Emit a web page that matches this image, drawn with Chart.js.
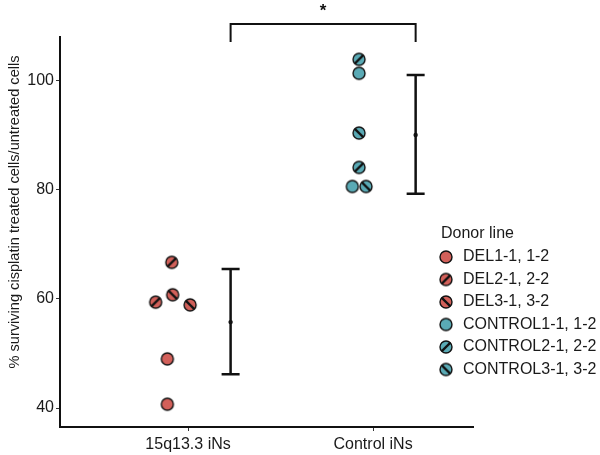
<!DOCTYPE html>
<html>
<head>
<meta charset="utf-8">
<script src="https://cdn.jsdelivr.net/npm/chart.js@4.4.1/dist/chart.umd.min.js"></script>
<style>
    html, body { margin: 0; padding: 0; background: #fff; }
</style>
</head>
<body>
<canvas id="chart" width="600" height="455"></canvas>
<script>
// Data
const groups = ['15q13.3 iNs', 'Control iNs'];
const donorLines = ['DEL1-1, 1-2', 'DEL2-1, 2-2', 'DEL3-1, 3-2', 'CONTROL1-1, 1-2', 'CONTROL2-1, 2-2', 'CONTROL3-1, 3-2'];
const donorGroup = [0, 0, 0, 1, 1, 1];
const donorHatch = ['none', '/', '\\', 'none', '/', '\\'];
const survival = [[49.0, 40.7], [66.7, 59.4], [60.75, 58.9], [101.35, 80.6], [103.9, 84.1], [90.4, 80.6]];
const jitter = [[-0.112, -0.112], [-0.088, -0.175], [-0.083, 0.011], [-0.076, -0.112], [-0.076, -0.076], [-0.076, -0.038]];
const groupMean = [55.75, 90.05];
const groupLower = [46.2, 79.25];
const groupUpper = [65.5, 101.05];
const yTicks = [40, 60, 80, 100];
const bracketLow = 107.1;
const bracketHigh = 110.4;
const signifLabel = '*';
const yTitle = '% surviving cisplatin treated cells/untreated cells';

const FONT = "'Liberation Sans', Arial, sans-serif";
const groupColors = ['#D2605A', '#5AAAB5'];
const dodge = 0.23;

function makeMarker(color, hatch) {
    const c = document.createElement('canvas');
    c.width = 16;
    c.height = 16;
    const g = c.getContext('2d');
    g.beginPath();
    g.arc(8, 8, 6, 0, Math.PI * 2);
    g.fillStyle = color;
    g.fill();
    g.lineWidth = 1.4;
    g.strokeStyle = '#111';
    g.stroke();
    if (hatch !== 'none') {
        const d = 4.4;
        g.beginPath();
        if (hatch === '/') { g.moveTo(8 - d, 8 + d); g.lineTo(8 + d, 8 - d); }
        else { g.moveTo(8 - d, 8 - d); g.lineTo(8 + d, 8 + d); }
        g.lineWidth = 2.2;
        g.stroke();
    }
    return c;
}

const markers = donorLines.map((_, i) => makeMarker(groupColors[donorGroup[i]], donorHatch[i]));

const pointSets = donorLines.map((name, i) => ({
    type: 'scatter',
    label: name,
    data: survival[i].map((v, k) => ({ x: donorGroup[i] + 1 + jitter[i][k], y: v })),
    pointStyle: markers[i],
    pointRadius: 7,
    backgroundColor: groupColors[donorGroup[i]]
}));

// significance bracket between the two summary bars
const bracketSet = {
    type: 'line',
    label: 'bracket',
    data: [
        { x: 1 + dodge, y: bracketLow },
        { x: 1 + dodge, y: bracketHigh },
        { x: 2 + dodge, y: bracketHigh },
        { x: 2 + dodge, y: bracketLow }
    ],
    borderColor: '#111',
    borderWidth: 2,
    pointRadius: 0,
    fill: false,
    clip: false
};

const summaryPlugin = {
    id: 'summary',
    afterDatasetsDraw(chart) {
        const { ctx, scales: { x, y } } = chart;
        ctx.save();
        ctx.strokeStyle = '#111';
        ctx.fillStyle = '#111';
        ctx.lineWidth = 2.5;
        groups.forEach((g, i) => {
            const px = x.getPixelForValue(i + 1 + dodge);
            const top = y.getPixelForValue(groupUpper[i]);
            const bot = y.getPixelForValue(groupLower[i]);
            const mid = y.getPixelForValue(groupMean[i]);
            ctx.beginPath();
            ctx.moveTo(px, top); ctx.lineTo(px, bot);
            ctx.moveTo(px - 9, top); ctx.lineTo(px + 9, top);
            ctx.moveTo(px - 9, bot); ctx.lineTo(px + 9, bot);
            ctx.stroke();
            ctx.beginPath();
            ctx.arc(px, mid, 2.2, 0, Math.PI * 2);
            ctx.fill();
        });
        // star above bracket
        const sx = (x.getPixelForValue(1 + dodge) + x.getPixelForValue(2 + dodge)) / 2;
        ctx.font = 'bold 17px ' + FONT;
        ctx.textAlign = 'center';
        ctx.textBaseline = 'alphabetic';
        ctx.fillText(signifLabel, sx, y.getPixelForValue(bracketHigh) - 8);
        ctx.restore();
    }
};

const legendPlugin = {
    id: 'donorLegend',
    afterDraw(chart) {
        const ctx = chart.ctx;
        ctx.save();
        ctx.fillStyle = '#1a1a1a';
        ctx.textBaseline = 'middle';
        ctx.textAlign = 'left';
        ctx.font = '16px ' + FONT;
        ctx.fillText('Donor line', 441, 234);
        donorLines.forEach((name, i) => {
            const cy = 257 + i * 22.5;
            ctx.drawImage(markers[i], 446 - 8, cy - 8);
            ctx.fillText(name, 463, cy);
        });
        // y axis title
        ctx.translate(15, 212);
        ctx.rotate(-Math.PI / 2);
        ctx.textAlign = 'center';
        ctx.font = '14.6px ' + FONT;
        ctx.fillText(yTitle, 0, 0);
        ctx.restore();
    }
};

new Chart(document.getElementById('chart'), {
    data: { datasets: [...pointSets, bracketSet] },
    options: {
        responsive: false,
        animation: false,
        layout: { padding: { top: 37, right: 127, left: 0, bottom: 0 } },
        plugins: {
            legend: { display: false },
            tooltip: { enabled: false }
        },
        scales: {
            x: {
                type: 'linear',
                min: 0.308,
                max: 2.54,
                afterBuildTicks: (scale) => { scale.ticks = groups.map((_, i) => ({ value: i + 1 })); },
                afterFit: (scale) => { scale.height = 28; },
                ticks: {
                    callback: (v) => groups[v - 1],
                    color: '#1a1a1a',
                    font: { family: FONT, size: 16 },
                    padding: 4,
                    maxRotation: 0
                },
                grid: { drawOnChartArea: false, color: '#333', tickLength: 4, tickWidth: 1 },
                border: { color: '#111', width: 2 }
            },
            y: {
                type: 'linear',
                min: 36.52,
                max: 108,
                afterBuildTicks: (scale) => { scale.ticks = yTicks.map(v => ({ value: v })); },
                afterFit: (scale) => { scale.width = 60; },
                ticks: {
                    color: '#1a1a1a',
                    font: { family: FONT, size: 16 },
                    padding: 2
                },
                grid: { drawOnChartArea: false, color: '#333', tickLength: 4, tickWidth: 1 },
                border: { color: '#111', width: 2 }
            }
        }
    },
    plugins: [summaryPlugin, legendPlugin]
});
</script>
</body>
</html>
